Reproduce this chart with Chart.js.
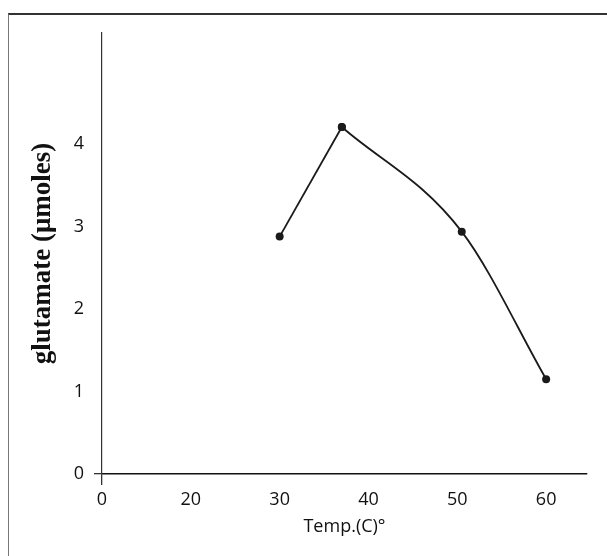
<!DOCTYPE html>
<html>
<head>
<meta charset="utf-8">
<script src="https://cdn.jsdelivr.net/npm/chart.js@4.4.1/dist/chart.umd.min.js"></script>
<style>
  html, body { margin: 0; padding: 0; background: #fff; }
  #wrap { position: relative; width: 607px; height: 556px; }
  #frame {
    position: absolute; left: 8px; top: 13px; right: 0; bottom: 0;
    border-top: 2px solid #333; border-left: 1px solid #777;
    pointer-events: none;
  }
  canvas { position: absolute; left: 0; top: 0; }
</style>
</head>
<body>
<div id="wrap">
  <div id="frame"></div>
  <canvas id="chart" width="607" height="556"></canvas>
</div>
<script>
// Temperature (C) and glutamate formed (umoles)
const temps = [30, 37, 50.5, 60];
const glutamate = [2.88, 4.21, 2.94, 1.15];

// x axis is broken: it starts at 10 but the origin is labelled 0
const xTickValues = [10, 20, 30, 40, 50, 60];
const xTickLabels = ['0', '20', '30', '40', '50', '60'];
const yTickValues = [0, 1, 2, 3, 4];
const yTickLabels = ['0', '1', '2', '3', '4'];

const points = temps.map((t, i) => ({ x: t, y: glutamate[i] }));
const peak = glutamate.indexOf(Math.max(...glutamate));

// rising part and falling part drawn separately so the peak stays sharp
const lineStyle = {
    borderColor: '#1a1a1a',
    backgroundColor: '#1a1a1a',
    borderWidth: 1.8,
    pointRadius: 4,
    pointBackgroundColor: '#1a1a1a',
    pointBorderWidth: 0,
    fill: false,
};

const tickFont = { family: 'Open Sans', size: 18 };

new Chart(document.getElementById('chart').getContext('2d'), {
    type: 'line',
    data: {
        datasets: [
            Object.assign({ data: points.slice(0, peak + 1), tension: 0 }, lineStyle),
            Object.assign({ data: points.slice(peak), cubicInterpolationMode: 'monotone' }, lineStyle),
        ],
    },
    options: {
        responsive: false,
        animation: false,
        layout: { padding: { top: 33, right: 20, bottom: 0, left: 0 } },
        plugins: {
            legend: { display: false },
            tooltip: { enabled: false },
        },
        scales: {
            x: {
                type: 'linear',
                min: 10,
                max: 64.6,
                afterBuildTicks: (scale) => {
                    scale.ticks = xTickValues.map(v => ({ value: v }));
                },
                afterFit: (scale) => { scale.height = 82; },
                ticks: {
                    font: tickFont,
                    color: '#111',
                    padding: 4,
                    maxRotation: 0,
                    callback: (v) => xTickLabels[xTickValues.indexOf(v)],
                },
                grid: {
                    drawOnChartArea: false,
                    drawTicks: true,
                    tickLength: 11,
                    lineWidth: 1.3,
                    color: (ctx) => (ctx.tick && ctx.tick.value === 10 ? '#333' : 'rgba(0,0,0,0)'),
                },
                border: { color: '#111', width: 1.5 },
                title: {
                    display: true,
                    text: 'Temp.(C)°',
                    font: { family: 'Open Sans', size: 18 },
                    color: '#111',
                    padding: { top: 0, bottom: 18 },
                },
            },
            y: {
                type: 'linear',
                min: 0,
                max: 5.35,
                afterBuildTicks: (scale) => {
                    scale.ticks = yTickValues.map(v => ({ value: v }));
                },
                afterFit: (scale) => { scale.width = 102; },
                ticks: {
                    font: tickFont,
                    color: '#111',
                    padding: 10,
                    callback: (v) => yTickLabels[yTickValues.indexOf(v)],
                },
                grid: {
                    drawOnChartArea: false,
                    drawTicks: true,
                    tickLength: 8,
                    lineWidth: 1.3,
                    color: (ctx) => (ctx.tick && ctx.tick.value === 0 ? '#333' : 'rgba(0,0,0,0)'),
                },
                border: { color: '#333', width: 1.2 },
                title: {
                    display: true,
                    text: 'glutamate (\u03bcmoles)',
                    font: { family: 'Liberation Serif', size: 27, weight: 'bold' },
                    color: '#111',
                    padding: { top: 27, bottom: 0 },
                },
            },
        },
    },
});
</script>
</body>
</html>
